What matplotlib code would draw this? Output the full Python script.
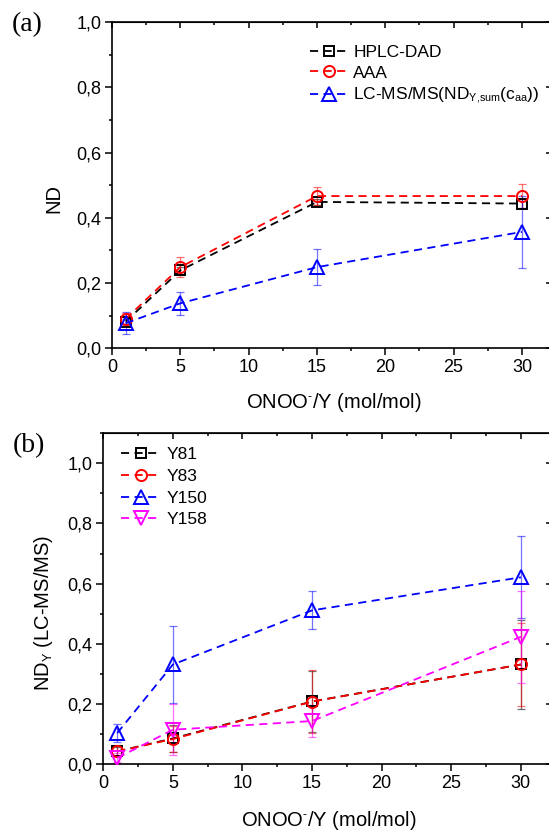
import matplotlib
matplotlib.use('Agg')
import matplotlib.pyplot as plt
from matplotlib.colors import to_rgba
from matplotlib.ticker import MultipleLocator, FuncFormatter

# the original uses smaller sub/superscripts than mathtext's default
try:
    import matplotlib._mathtext as _mt
    _mt.SHRINK_FACTOR = 0.62
except (ImportError, AttributeError):
    pass

plt.rcParams['font.family'] = ['Liberation Sans', 'DejaVu Sans']
plt.rcParams['mathtext.fontset'] = 'custom'
plt.rcParams['mathtext.rm'] = 'Liberation Sans'
plt.rcParams['mathtext.it'] = 'Liberation Sans:italic'
plt.rcParams['mathtext.default'] = 'regular'

# panel (a): degree of nitration, three methods
X_A = [1, 5, 15, 30]
HPLC = [0.082, 0.239, 0.449, 0.444]
HPLC_ERR = [0.008, 0.01, 0.008, 0.015]
AAA = [0.090, 0.249, 0.467, 0.467]
AAA_ERR = [0.019, 0.031, 0.028, 0.036]
LCMS = [0.077, 0.138, 0.249, 0.357]
LCMS_ERR = [0.033, 0.035, 0.055, 0.11]
LABELS_A = ['HPLC-DAD', 'AAA', r'LC-MS/MS(ND$_{Y{,}sum}$(c$_{aa}$))']

# panel (b): per tyrosine site
X_B = [1, 5, 15, 30]
Y81 = [0.042, 0.085, 0.208, 0.331]
Y81_ERR = [0.015, 0.045, 0.1, 0.149]
Y83 = [0.042, 0.083, 0.2075, 0.331]
Y83_ERR = [0.02, 0.042, 0.105, 0.137]
Y150 = [0.103, 0.331, 0.511, 0.621]
Y150_ERR = [0.031, 0.128, 0.063, 0.136]
Y158 = [0.020, 0.114, 0.143, 0.423]
Y158_ERR = [0.015, 0.084, 0.052, 0.152]
LABELS_B = ['Y81', 'Y83', 'Y150', 'Y158']

BLACK, RED, BLUE, MAGENTA = '#000000', '#ff0000', '#0000ff', '#ff00ff'
XLABEL = 'ONOO$^{\u2010}$/Y (mol/mol)'

W, H = 549, 831
fig = plt.figure(figsize=(W / 100, H / 100), dpi=100)


def comma(v, pos):
    return f'{v:.1f}'.replace('.', ',')


def make_axes(left, right, bottom, top, ymax):
    ax = fig.add_axes([left / W, 1 - bottom / H, (right - left) / W, (bottom - top) / H])
    ax.set_xlim(0, 32.2)
    ax.set_ylim(0, ymax)
    ax.xaxis.set_major_locator(MultipleLocator(5))
    ax.xaxis.set_minor_locator(MultipleLocator(2.5))
    ax.yaxis.set_major_locator(MultipleLocator(0.2))
    ax.yaxis.set_minor_locator(MultipleLocator(0.1))
    ax.yaxis.set_major_formatter(FuncFormatter(comma))
    ax.tick_params(which='major', direction='out', length=4.7, width=1.1,
                   labelsize=13, pad=3, top=False, right=False)
    ax.tick_params(which='minor', direction='out', length=2.5, width=1.1,
                   top=False, right=False)
    for s in ax.spines.values():
        s.set_linewidth(1.2)

    top_ax = ax.secondary_xaxis('top')
    top_ax.xaxis.set_major_locator(MultipleLocator(5))
    top_ax.xaxis.set_minor_locator(MultipleLocator(2.5))
    top_ax.tick_params(which='major', direction='in', length=4.2, width=1.1, labeltop=False)
    top_ax.tick_params(which='minor', direction='in', length=2.4, width=1.1)
    right_ax = ax.secondary_yaxis('right')
    right_ax.yaxis.set_major_locator(MultipleLocator(0.2))
    right_ax.yaxis.set_minor_locator(MultipleLocator(0.1))
    right_ax.tick_params(which='major', direction='in', length=4.2, width=1.1, labelright=False)
    right_ax.tick_params(which='minor', direction='in', length=2.4, width=1.1)
    return ax


def series(ax, x, y, err, color, marker, ms, label):
    ax.errorbar(x, y, yerr=err, fmt='none', ecolor=to_rgba(color, 0.55),
                elinewidth=0.9, capsize=2.6, capthick=0.9, zorder=2)
    line, = ax.plot(x, y, linestyle=(0, (4.5, 3)), linewidth=1.3, color=color,
                    marker=marker, markersize=ms, markerfacecolor='none',
                    markeredgecolor=color, markeredgewidth=1.4, label=label, zorder=3)
    return line


def place_labels(ax, xl, yl, ylab_y):
    ax.set_xlabel(XLABEL, fontsize=14.5)
    ax.xaxis.set_label_coords(*xl)
    ax.xaxis.label.set_verticalalignment('center')
    ax.set_ylabel(yl, fontsize=14.5)
    ax.yaxis.set_label_coords(*ylab_y)
    ax.yaxis.label.set_verticalalignment('center')


# ---- panel (a)
ax1 = make_axes(112, 552, 348.3, 22.3, 1.0)
h = [series(ax1, X_A, HPLC, HPLC_ERR, BLACK, 's', 7, LABELS_A[0]),
     series(ax1, X_A, AAA, AAA_ERR, RED, 'o', 8, LABELS_A[1]),
     series(ax1, X_A, LCMS, LCMS_ERR, BLUE, '^', 9.5, LABELS_A[2])]
place_labels(ax1, ((334 - 112) / 440, (348.3 - 403) / 326), 'ND',
             ((54 - 112) / 440, 0.458))
fig.legend(handles=h, loc='upper left', bbox_to_anchor=(310 / W, 1 - 45 / H),
           frameon=False, fontsize=12.5, handlelength=2.2, handletextpad=0.3,
           labelspacing=0.3, borderpad=0, borderaxespad=0)
fig.text(12 / W, 1 - 25 / H, '(a)', family='Liberation Serif', fontsize=20,
         ha='left', va='center')

# ---- panel (b)
ax2 = make_axes(103.3, 551.5, 764, 433.3, 1.1)
h = [series(ax2, X_B, Y81, Y81_ERR, BLACK, 's', 7, LABELS_B[0]),
     series(ax2, X_B, Y83, Y83_ERR, RED, 'o', 8, LABELS_B[1]),
     series(ax2, X_B, Y150, Y150_ERR, BLUE, '^', 9.5, LABELS_B[2]),
     series(ax2, X_B, Y158, Y158_ERR, MAGENTA, 'v', 9.5, LABELS_B[3])]
place_labels(ax2, ((329 - 103.3) / 448.2, (764 - 821) / 330.7),
             r'ND$_Y$ (LC-MS/MS)', ((44 - 103.3) / 448.2, 0.457))
fig.legend(handles=h, loc='upper left', bbox_to_anchor=(121 / W, 1 - 447 / H),
           frameon=False, fontsize=12.5, handlelength=2.3, handletextpad=0.3,
           labelspacing=0.38, borderpad=0, borderaxespad=0)
fig.text(13 / W, 1 - 446 / H, '(b)', family='Liberation Serif', fontsize=20,
         ha='left', va='center')

fig.savefig('out.png', dpi=100)
